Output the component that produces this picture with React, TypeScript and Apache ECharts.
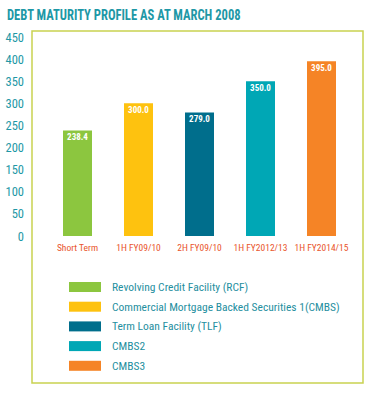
import React, { useEffect, useRef } from "react";
import * as echarts from "echarts";

const categories = ["Short Term", "1H FY09/10", "2H FY09/10", "1H FY2012/13", "1H FY2014/15"];
const seriesNames = [
  "Revolving Credit Facility (RCF)",
  "Commercial Mortgage Backed Securities 1(CMBS)",
  "Term Loan Facility (TLF)",
  "CMBS2",
  "CMBS3",
];
const values = [238.4, 300.0, 279.0, 350.0, 395.0];
const colors = ["#8cc63f", "#fec20f", "#006e8c", "#00a7b5", "#f58426"];

const FONT = "'Roboto Condensed', 'DejaVu Sans Condensed', sans-serif";

export default function App() {
  const ref = useRef<HTMLDivElement>(null);
  useEffect(() => {
    if (!ref.current) return;
    const chart = echarts.init(ref.current, undefined, { renderer: "svg" });
    const series = seriesNames.map((name, i) => ({
      name,
      type: "bar",
      stack: "all",
      barWidth: 29,
      itemStyle: { color: colors[i] },
      data: categories.map((_, j) => (j === i ? values[j] : "-")),
      label: {
        show: true,
        position: "insideTop",
        distance: 2,
        color: "#ffffff",
        fontFamily: FONT,
        fontWeight: "bold",
        fontSize: 9,
        formatter: (p: any) => Number(p.value).toFixed(1),
      },
    }));
    chart.setOption({
      animation: false,
      backgroundColor: "#ffffff",
      graphic: [
        {
          type: "text",
          x: 7,
          y: 8,
          scaleX: 0.9,
          style: {
            text: "DEBT MATURITY PROFILE AS AT MARCH 2008",
            fill: "#1e98a6",
            fontFamily: FONT,
            fontWeight: "bold",
            fontSize: 14,
          },
        },
        {
          type: "rect",
          shape: { x: 32, y: 31, width: 331, height: 352 },
          style: { fill: "none", stroke: "#c9d250", lineWidth: 1.5 },
          silent: true,
        },
      ],
      legend: {
        orient: "vertical",
        left: 64,
        top: 275,
        itemWidth: 32,
        itemHeight: 10,
        itemGap: 5.7,
        icon: "rect",
        data: seriesNames,
        textStyle: { color: "#1f8fa0", fontFamily: FONT, fontSize: 11.5, lineHeight: 14, padding: [0, 0, 0, 6] },
      },
      grid: { left: 47, right: 20, top: 37, bottom: 157 },
      xAxis: {
        type: "category",
        data: categories,
        axisLine: { show: false },
        axisTick: { show: false },
        axisLabel: { color: "#e9542c", fontFamily: FONT, fontSize: 9.5, margin: 6, interval: 0 },
      },
      yAxis: {
        type: "value",
        min: 0,
        max: 450,
        interval: 50,
        axisLine: { show: false },
        axisTick: { show: false },
        splitLine: { show: false },
        axisLabel: { color: "#1e98a6", fontFamily: FONT, fontSize: 12.5, margin: 23 },
      },
      series,
    });
    return () => chart.dispose();
  }, []);
  return <div ref={ref} style={{ position: "fixed", left: 0, top: 0, width: 372, height: 393 }} />;
}
